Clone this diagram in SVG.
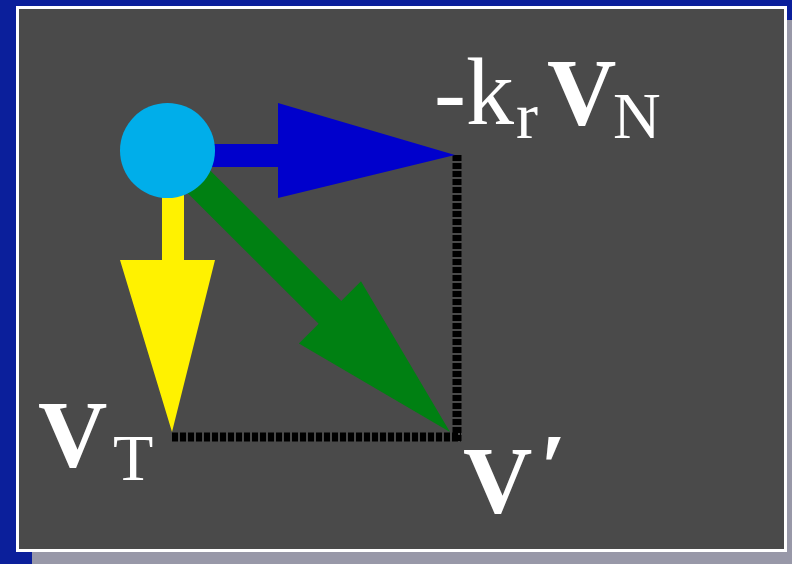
<svg xmlns="http://www.w3.org/2000/svg" width="792" height="564" viewBox="0 0 792 564">
  <style>
    .lbl { font-family: "Liberation Serif", "DejaVu Serif", serif; fill: #ffffff; }
    .big { font-size: 96px; font-weight: bold; }
    .reg { font-size: 96px; }
    .sub { font-size: 66px; }
    .dots { stroke: #000000; stroke-width: 9; stroke-dasharray: 6 2; fill: none; }
  </style>
  <rect x="0" y="0" width="792" height="564" fill="#0b1f9b"/>
  <rect x="32" y="20" width="780" height="560" fill="#9898a8"/>
  <rect x="17.5" y="7.5" width="768" height="543" fill="#4a4a4a" stroke="#ffffff" stroke-width="3"/>
  <g id="connectors">
    <line class="dots" x1="457" y1="155" x2="457" y2="441"/>
    <line class="dots" x1="172" y1="437" x2="461" y2="437"/>
    <polygon id="arrow-vn" fill="#0000cc" points="167,144 278,144 278,103 455,155 278,198 278,167 167,167"/>
    <polygon id="arrow-vt" fill="#fff200" points="162,150 184,150 184,260 215,260 172,432 120,260 162,260"/>
    <polygon id="arrow-vprime" fill="#008012" transform="translate(167,150) rotate(44.9)" points="0,-16 230,-16 230,-44 399.5,0 230,44 230,16 0,16"/>
  </g>
  <g id="particle">
    <circle cx="167.5" cy="150.5" r="47.5" fill="#00aeea"/>
  </g>
  <g id="label-vn">
    <text class="lbl reg" x="434" y="124">-k</text>
    <text class="lbl sub" x="516" y="138">r</text>
    <text class="lbl big" x="547" y="125" font-size="88">V</text>
    <text class="lbl sub" x="613" y="138">N</text>
  </g>
  <g id="label-vt">
    <text class="lbl big" x="38" y="467">V</text>
    <text class="lbl sub" x="113" y="480">T</text>
  </g>
  <g id="label-vprime">
    <text class="lbl big" x="463" y="513">V<tspan x="540" y="500">′</tspan></text>
  </g>
</svg>
